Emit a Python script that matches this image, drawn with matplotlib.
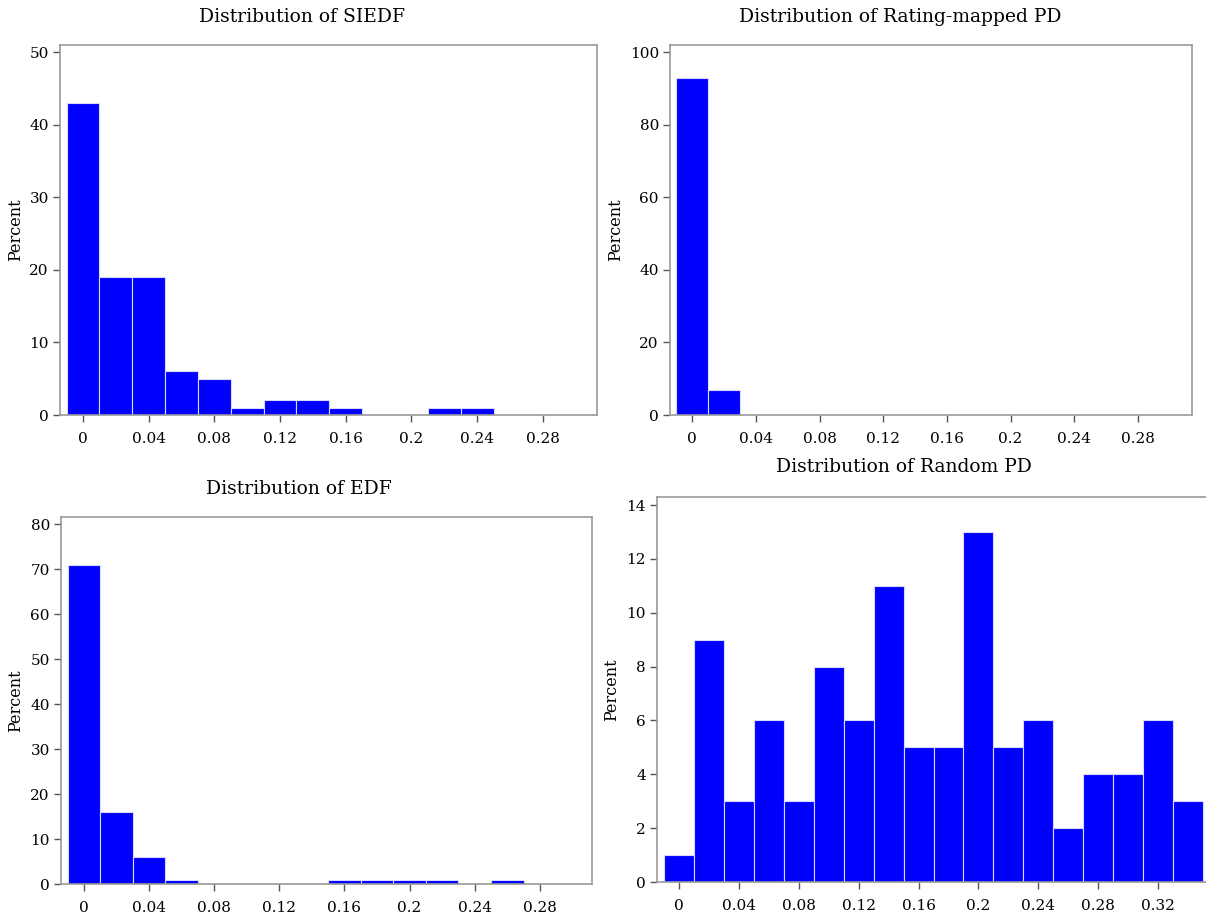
import numpy as np
import matplotlib
matplotlib.use("Agg")
import matplotlib.pyplot as plt

# bin centres (width 0.02) and percent per bin
siedf_bins = [0.00, 0.02, 0.04, 0.06, 0.08, 0.10, 0.12, 0.14, 0.16, 0.18, 0.20, 0.22, 0.24]
siedf_pct = [43, 19, 19, 6, 5, 1, 2, 2, 1, 0, 0, 1, 1]

rating_bins = [0.00, 0.02]
rating_pct = [93, 7]

edf_bins = [0.00, 0.02, 0.04, 0.06, 0.08, 0.10, 0.12, 0.14, 0.16, 0.18, 0.20, 0.22, 0.24, 0.26]
edf_pct = [71, 16, 6, 1, 0, 0, 0, 0, 1, 1, 1, 1, 0, 1]

random_bins = [0.00, 0.02, 0.04, 0.06, 0.08, 0.10, 0.12, 0.14, 0.16,
               0.18, 0.20, 0.22, 0.24, 0.26, 0.28, 0.30, 0.32, 0.34]
random_pct = [1, 9, 3, 6, 3, 8, 6, 11, 5, 5, 13, 5, 6, 2, 4, 4, 6, 3]

ticks_028 = [0, 0.04, 0.08, 0.12, 0.16, 0.2, 0.24, 0.28]
ticks_032 = [0, 0.04, 0.08, 0.12, 0.16, 0.2, 0.24, 0.28, 0.32]

plt.rcParams["font.family"] = "DejaVu Serif"

W, H = 1206, 915
fig = plt.figure(figsize=(W / 100, H / 100), dpi=100)


def px_axes(left, top, right, bottom):
    return fig.add_axes([left / W, 1 - bottom / H, (right - left) / W, (bottom - top) / H])


def fmt(v):
    return ("%.2f" % v).rstrip("0").rstrip(".")


def draw(ax, bins, pct, xlim, ylim, yticks, xticks, labx):
    ax.bar(bins, pct, width=0.02, color="#0000ff", edgecolor="#d8d8ff", linewidth=0.8)
    ax.set_xlim(*xlim)
    ax.set_ylim(*ylim)
    ax.set_xticks(xticks)
    ax.set_xticklabels([fmt(t) for t in xticks])
    ax.set_yticks(yticks)
    ax.tick_params(direction="out", length=5, width=1, color="#555555", labelsize=11)
    ax.tick_params(axis="x", pad=7)
    ax.tick_params(axis="y", pad=3)
    for s in ax.spines.values():
        s.set_color("#999999")
        s.set_linewidth(1.2)
    ax.set_ylabel("Percent", fontsize=11.5)
    ax.yaxis.set_label_coords(labx, 0.5)


ax1 = px_axes(60, 45, 597, 415)
draw(ax1, siedf_bins, siedf_pct, (-0.014, 0.313), (0, 51), range(0, 51, 10), ticks_028, -0.067)

ax2 = px_axes(670, 45, 1192, 415)
draw(ax2, rating_bins, rating_pct, (-0.014, 0.314), (0, 102), range(0, 101, 20), ticks_028, -0.088)

ax3 = px_axes(61, 517, 592, 884)
draw(ax3, edf_bins, edf_pct, (-0.014, 0.312), (0, 81.6), range(0, 81, 10), ticks_028, -0.070)

ax4 = px_axes(657, 497, 1206, 882)
draw(ax4, random_bins, random_pct, (-0.0147, 0.352), (0, 14.3), range(0, 15, 2), ticks_032, -0.067)
ax4.spines["right"].set_visible(False)

fig.text(302 / W, 1 - 17 / H, "Distribution of SIEDF", ha="center", va="center", fontsize=13.5)
fig.text(900 / W, 1 - 17 / H, "Distribution of Rating-mapped PD", ha="center", va="center", fontsize=13.5)
fig.text(299 / W, 1 - 489 / H, "Distribution of EDF", ha="center", va="center", fontsize=13.5)
fig.text(904 / W, 1 - 467 / H, "Distribution of Random PD", ha="center", va="center", fontsize=13.5)

fig.savefig("out.png", dpi=100)
